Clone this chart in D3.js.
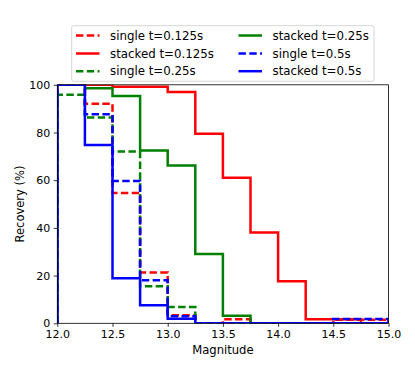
<!DOCTYPE html>
<html>
<head>
<meta charset="utf-8">
<script src="https://cdn.jsdelivr.net/npm/d3@7"></script>
<style>
  body { margin: 0; background: #fff; }
  svg { display: block; font-family: "DejaVu Sans", sans-serif; }
</style>
</head>
<body>
<div id="chart"></div>
<script>
// -------------------------------------------------------------------------
// Data (recovery in % per magnitude bin)

const binEdges = [12.0, 12.25, 12.5, 12.75, 13.0, 13.25, 13.5, 13.75, 14.0, 14.25, 14.5, 14.75, 15.0];

const singleT0125  = [100, 92.1, 54.6, 21.3, 3.4, 0, 1.7, 0, 0, 0, 1.5, 1.5];
const stackedT0125 = [100, 100, 99.2, 99.2, 97.0, 79.5, 61.0, 38.1, 17.6, 1.7, 1.7, 0];
const singleT025   = [95.8, 86.3, 72.0, 15.5, 6.8, 0, 0, 0, 0, 0, 0, 0];
const stackedT025  = [100, 98.6, 95.3, 72.5, 66.2, 29.1, 3.2, 0, 0, 0, 0, 0];
const singleT05    = [100, 87.6, 59.7, 18.1, 3.0, 0, 0, 0, 0, 0, 1.8, 1.8];
const stackedT05   = [100, 74.8, 18.9, 7.6, 1.9, 0, 0, 0, 0, 0, 0, 0];

const seriesNames = ['single t=0.125s', 'stacked t=0.125s', 'single t=0.25s',
  'stacked t=0.25s', 'single t=0.5s', 'stacked t=0.5s'];

const xTicks = [12.0, 12.5, 13.0, 13.5, 14.0, 14.5, 15.0];
const yTicks = [0, 20, 40, 60, 80, 100];

// -------------------------------------------------------------------------
// Layout

const width = 415;
const height = 369;
const plot = { left: 57.3, right: 388.5, top: 84.8, bottom: 323.3 };

const series = [
  { name: seriesNames[0], values: singleT0125, color: '#ff0000', dashed: true },
  { name: seriesNames[1], values: stackedT0125, color: '#ff0000', dashed: false },
  { name: seriesNames[2], values: singleT025, color: '#008000', dashed: true },
  { name: seriesNames[3], values: stackedT025, color: '#008000', dashed: false },
  { name: seriesNames[4], values: singleT05, color: '#0000ff', dashed: true },
  { name: seriesNames[5], values: stackedT05, color: '#0000ff', dashed: false }
];

const lineWidth = 2.5;
const dashPattern = '7.4,3.4';

const x = d3.scaleLinear().domain([12, 15]).range([plot.left, plot.right]);
const y = d3.scaleLinear().domain([0, 100]).range([plot.bottom, plot.top]);

const svg = d3.select('#chart').append('svg')
  .attr('width', width)
  .attr('height', height);

svg.append('clipPath').attr('id', 'plot-clip')
  .append('rect')
  .attr('x', plot.left)
  .attr('y', plot.top)
  .attr('width', plot.right - plot.left)
  .attr('height', plot.bottom - plot.top);

// step outline like histtype='step': up from the baseline, across each bin, back down
function stepPoints(values) {
  let pts = [[binEdges[0], 0]];
  values.forEach((v, i) => {
    pts.push([binEdges[i], v]);
    pts.push([binEdges[i + 1], v]);
  });
  pts.push([binEdges[binEdges.length - 1], 0]);
  return pts;
}

const line = d3.line()
  .x((d) => x(d[0]))
  .y((d) => y(d[1]));

const lines = svg.append('g').attr('clip-path', 'url(#plot-clip)');
series.forEach((s) => {
  lines.append('path')
    .attr('d', line(stepPoints(s.values)))
    .attr('fill', 'none')
    .attr('stroke', s.color)
    .attr('stroke-width', lineWidth)
    .attr('stroke-linejoin', 'miter')
    .attr('stroke-dasharray', s.dashed ? dashPattern : null);
});

// -------------------------------------------------------------------------
// Axes

const xAxis = svg.append('g')
  .attr('transform', `translate(0,${plot.bottom})`)
  .call(d3.axisBottom(x).tickValues(xTicks).tickFormat(d3.format('.1f')).tickSize(3.5).tickPadding(3.5));

const yAxis = svg.append('g')
  .attr('transform', `translate(${plot.left},0)`)
  .call(d3.axisLeft(y).tickValues(yTicks).tickSize(3.5).tickPadding(3.5));

[xAxis, yAxis].forEach((ax) => {
  ax.select('.domain').remove();
  ax.selectAll('.tick line').attr('stroke', '#000').attr('stroke-width', 0.8);
  ax.selectAll('.tick text').attr('fill', '#000').style('font-size', '11px')
    .style('font-family', '"DejaVu Sans", sans-serif');
});

svg.append('rect')
  .attr('x', plot.left)
  .attr('y', plot.top)
  .attr('width', plot.right - plot.left)
  .attr('height', plot.bottom - plot.top)
  .attr('fill', 'none')
  .attr('stroke', '#000')
  .attr('stroke-width', 0.8);

svg.append('text')
  .attr('x', (plot.left + plot.right) / 2)
  .attr('y', 353.5)
  .attr('text-anchor', 'middle')
  .style('font-size', '11.6px')
  .text('Magnitude');

svg.append('text')
  .attr('transform', `translate(23.5,${(plot.top + plot.bottom) / 2}) rotate(-90)`)
  .attr('text-anchor', 'middle')
  .style('font-size', '11.5px')
  .text('Recovery (%)');

// -------------------------------------------------------------------------
// Legend (2 columns, filled column by column)

const legend = svg.append('g');
legend.append('rect')
  .attr('x', 71.7)
  .attr('y', 25.7)
  .attr('width', 374 - 71.7)
  .attr('height', 81.3 - 25.7)
  .attr('rx', 2)
  .attr('fill', '#fff')
  .attr('fill-opacity', 0.8)
  .attr('stroke', '#ccc')
  .attr('stroke-width', 0.8);

const colX = [76, 238.5];
const rowY = [35.5, 53.5, 71.2];
series.forEach((s, i) => {
  const cx = colX[Math.floor(i / 3)];
  const cy = rowY[i % 3];
  legend.append('line')
    .attr('x1', cx)
    .attr('x2', cx + 23.5)
    .attr('y1', cy)
    .attr('y2', cy)
    .attr('stroke', s.color)
    .attr('stroke-width', lineWidth)
    .attr('stroke-dasharray', s.dashed ? dashPattern : null);
  legend.append('text')
    .attr('x', cx + 34)
    .attr('y', cy)
    .attr('dy', '0.35em')
    .style('font-size', '11.8px')
    .text(s.name);
});
</script>
</body>
</html>
